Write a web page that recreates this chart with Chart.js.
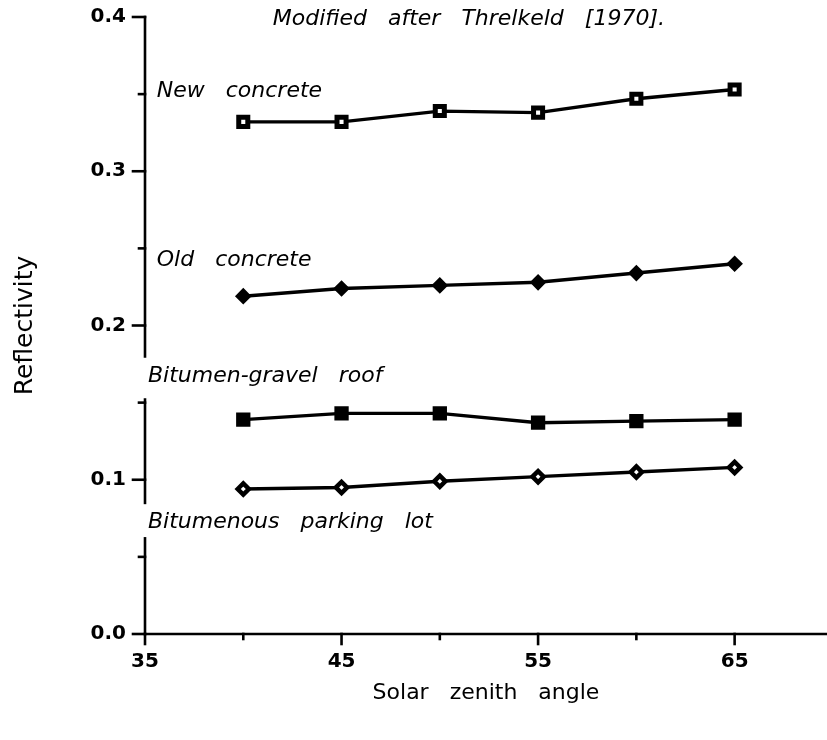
<!DOCTYPE html>
<html>
<head>
<meta charset="utf-8">
<script src="https://cdn.jsdelivr.net/npm/chart.js@4/dist/chart.umd.min.js"></script>
<style>
  html, body { margin: 0; padding: 0; background: #fff; }
  #wrap { width: 827px; height: 740px; }
</style>
</head>
<body>
<div id="wrap"><canvas id="c" width="827" height="740"></canvas></div>
<script>
// ---- data ----
const angles = [40, 45, 50, 55, 60, 65];
const newConcrete = [0.332, 0.332, 0.339, 0.338, 0.347, 0.353];
const oldConcrete = [0.219, 0.224, 0.226, 0.228, 0.234, 0.240];
const gravelRoof  = [0.139, 0.143, 0.143, 0.137, 0.138, 0.139];
const parkingLot  = [0.094, 0.095, 0.099, 0.102, 0.105, 0.108];
const seriesNames = ['New concrete', 'Old concrete', 'Bitumen-gravel roof', 'Bitumenous parking lot'];
const xTicks = [35, 40, 45, 50, 55, 60, 65];
const xTickLabels = ['35', '', '45', '', '55', '', '65'];
const yTicks = [0.0, 0.1, 0.2, 0.3, 0.4];
const yTickLabels = ['0.0', '0.1', '0.2', '0.3', '0.4'];
const yMinorTicks = [0.05, 0.15, 0.25, 0.35];
const titleText = 'Modified after Threlkeld [1970].';
const xTitle = 'Solar zenith angle';
const yTitle = 'Reflectivity';

// ---- layout / annotation config (positions in data units) ----
const X_MIN = 35, X_MAX = 69.7, Y_MIN = 0, Y_MAX = 0.4;
const yAxisSegments = [[0.4, 0.180], [0.152, 0.085], [0.062, 0.0]];
const notes = [
  { text: titleText,      x: 41.5,  y: 0.3985 },
  { text: seriesNames[0], x: 35.6,  y: 0.352 },
  { text: seriesNames[1], x: 35.6,  y: 0.242 },
  { text: seriesNames[2], x: 35.15, y: 0.167 },
  { text: seriesNames[3], x: 35.15, y: 0.0725 }
];

const toPts = arr => angles.map((a, i) => ({ x: a, y: arr[i] }));

const FONT = '"DejaVu Sans", "Liberation Sans", sans-serif';

const decor = {
  id: 'decor',
  beforeDraw(chart) {
    try { chart.ctx.wordSpacing = '14px'; } catch (e) {}
  },
  afterDraw(chart) {
    const { ctx, scales: { x, y } } = chart;
    ctx.save();
    ctx.strokeStyle = '#000';
    ctx.lineWidth = 2.6;
    ctx.lineCap = 'square';
    const x0 = x.getPixelForValue(X_MIN);
    const y0 = y.getPixelForValue(0);
    const seg = (ax, ay, bx, by) => { ctx.beginPath(); ctx.moveTo(ax, ay); ctx.lineTo(bx, by); ctx.stroke(); };
    yAxisSegments.forEach(([a, b]) => seg(x0, y.getPixelForValue(a), x0, y.getPixelForValue(b)));
    seg(x0, y0, x.right, y0);
    yTicks.forEach(v => { const p = y.getPixelForValue(v); seg(x0 - 12, p, x0, p); });
    yMinorTicks.forEach(v => { const p = y.getPixelForValue(v); seg(x0 - 6, p, x0, p); });
    xTicks.forEach((v, i) => {
      const p = x.getPixelForValue(v);
      seg(p, y0, p, y0 + (xTickLabels[i] ? 10 : 5));
    });
    ctx.fillStyle = '#000';
    ctx.font = 'italic 22px ' + FONT;
    ctx.textAlign = 'left';
    ctx.textBaseline = 'middle';
    try { ctx.wordSpacing = '14px'; } catch (e) {}
    notes.forEach(n => ctx.fillText(n.text, x.getPixelForValue(n.x), y.getPixelForValue(n.y)));
    ctx.restore();
  }
};

const mk = (label, arr, style, fill, radius, bw) => ({
  label, data: toPts(arr),
  borderColor: '#000', borderWidth: 3.4,
  pointStyle: style, pointRadius: radius, pointHoverRadius: radius,
  pointBackgroundColor: fill, pointBorderColor: '#000', pointBorderWidth: bw,
  tension: 0, fill: false
});

new Chart(document.getElementById('c'), {
  type: 'line',
  data: {
    datasets: [
      mk(seriesNames[0], newConcrete, 'rect', '#fff', 6.4, 5),
      mk(seriesNames[1], oldConcrete, 'rectRot', '#000', 6.2, 3),
      mk(seriesNames[2], gravelRoof, 'rect', '#000', 8, 3),
      mk(seriesNames[3], parkingLot, 'rectRot', '#fff', 5.6, 4.5)
    ]
  },
  options: {
    responsive: false,
    animation: false,
    events: [],
    layout: { autoPadding: false, padding: { top: 17, right: 0, bottom: 0, left: 0 } },
    plugins: { legend: { display: false }, tooltip: { enabled: false }, title: { display: false } },
    scales: {
      x: {
        type: 'linear', min: X_MIN, max: X_MAX,
        grid: { display: true, drawOnChartArea: false, drawTicks: true, tickLength: 16, color: 'rgba(0,0,0,0)' },
        border: { display: false },
        afterBuildTicks: s => { s.ticks = xTicks.concat([X_MAX]).map(v => ({ value: v })); },
        afterFit: s => { s.height = 106; },
        ticks: {
          autoSkip: false, maxRotation: 0, padding: 0, color: '#000',
          font: { family: FONT, size: 20, weight: 'bold' },
          callback: (v) => { const i = xTicks.indexOf(v); return i >= 0 ? xTickLabels[i] : ''; }
        },
        title: { display: true, text: xTitle, color: '#000', font: { family: FONT, size: 22 }, padding: { top: 0, bottom: 34 } }
      },
      y: {
        type: 'linear', min: Y_MIN, max: Y_MAX,
        grid: { display: true, drawOnChartArea: false, drawTicks: true, tickLength: 19, color: 'rgba(0,0,0,0)' },
        border: { display: false },
        afterBuildTicks: s => { s.ticks = yTicks.map(v => ({ value: v })); },
        afterFit: s => { s.width = 145; },
        ticks: {
          autoSkip: false, padding: 0, color: '#000',
          font: { family: FONT, size: 20, weight: 'bold' },
          callback: (v) => { const i = yTicks.findIndex(t => Math.abs(t - v) < 1e-9); return i >= 0 ? yTickLabels[i] : ''; }
        },
        title: { display: true, text: yTitle, color: '#000', font: { family: FONT, size: 25 }, padding: { top: 10, bottom: 0 } }
      }
    }
  },
  plugins: [decor]
});
</script>
</body>
</html>
